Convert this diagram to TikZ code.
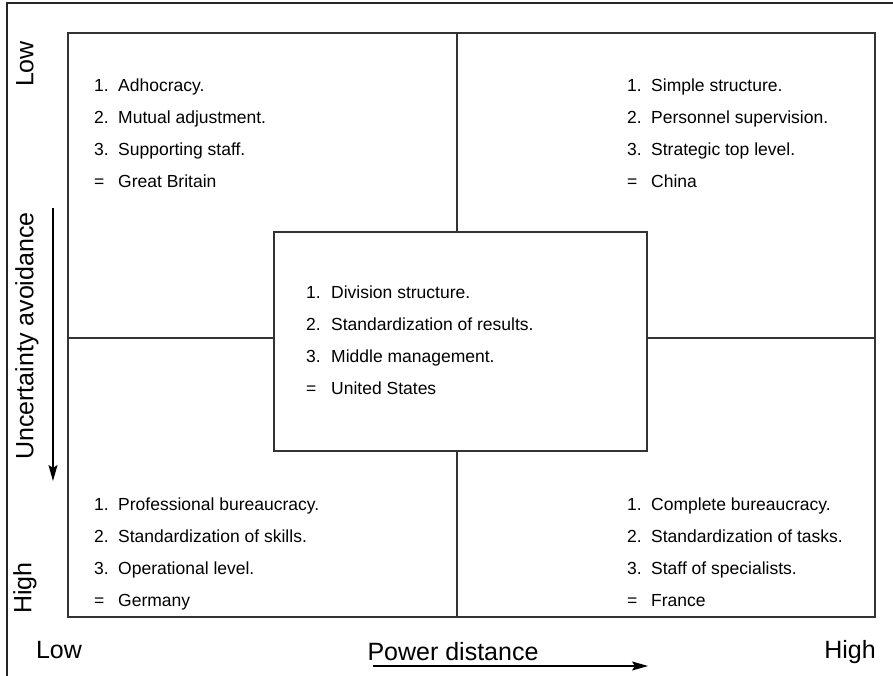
\documentclass[tikz,border=0pt]{standalone}
\usepackage{fontspec}
\setmainfont{Liberation Sans}
\usetikzlibrary{arrows.meta}
\begin{document}
\begin{tikzpicture}[x=1pt,y=-1pt,
  frameline/.style={line width=1.4pt, draw=black!85},
  quad/.style={line width=1.2pt, draw=black!80},
  item/.style={anchor=base west, inner sep=0pt, font=\fontsize{17.5}{20}\selectfont},
  axislabel/.style={inner sep=0pt, font=\fontsize{25}{30}\selectfont},
  dirarrow/.style={line width=1.2pt, -{Stealth[length=16pt,width=9pt,inset=3pt]}}]
\useasboundingbox (0,0) rectangle (893,676);

% outer frame (top and left edges)
\draw[frameline] (7,676) -- (7,3) -- (893,3);

% four quadrants
\draw[quad] (68,33) rectangle (875,617);
\draw[quad] (457,33) -- (457,617);
\draw[quad] (68,338) -- (875,338);

% central box
\node[quad, fill=white, minimum width=373pt, minimum height=219pt, inner sep=0pt]
  (mid) at (460.5,341.5) {};

% quadrant contents
\foreach \n/\t [count=\i] in {1./Adhocracy., 2./Mutual adjustment., 3./Supporting staff., =/Great Britain}{
  \node[item] (tl-n-\i) at (94,86+32*\i-32+6) {\n};
  \node[item] (tl-t-\i) at (118,86+32*\i-32+6) {\t};
}
\foreach \n/\t [count=\i] in {1./Simple structure., 2./Personnel supervision., 3./Strategic top level., =/China}{
  \node[item] (tr-n-\i) at (627,86+32*\i-32+6) {\n};
  \node[item] (tr-t-\i) at (651,86+32*\i-32+6) {\t};
}
\foreach \n/\t [count=\i] in {1./Division structure., 2./Standardization of results., 3./Middle management., =/United States}{
  \node[item] (c-n-\i) at (306,292+32*\i-32+6) {\n};
  \node[item] (c-t-\i) at (331,292+32*\i-32+6) {\t};
}
\foreach \n/\t [count=\i] in {1./Professional bureaucracy., 2./Standardization of skills., 3./Operational level., =/Germany}{
  \node[item] (bl-n-\i) at (94,504+32*\i-32+6) {\n};
  \node[item] (bl-t-\i) at (118,504+32*\i-32+6) {\t};
}
\foreach \n/\t [count=\i] in {1./Complete bureaucracy., 2./Standardization of tasks., 3./Staff of specialists., =/France}{
  \node[item] (br-n-\i) at (627,504+32*\i-32+6) {\n};
  \node[item] (br-t-\i) at (651,504+32*\i-32+6) {\t};
}

% vertical axis
\node[axislabel, rotate=90] (ylow) at (25,64) {Low};
\node[axislabel, rotate=90] (yhigh) at (25,588) {High};
\node[axislabel, rotate=90] (ytitle) at (27,336) {Uncertainty avoidance};
\coordinate (ya) at (53,208);
\coordinate (yb) at (53,481);
\draw[dirarrow] (ya) -- (yb);

% horizontal axis
\node[axislabel] (xlow) at (59,650) {Low};
\node[axislabel] (xhigh) at (850,652) {High};
\node[axislabel] (xtitle) at (453,652) {Power distance};
\coordinate (xa) at (373,666);
\coordinate (xb) at (648,666);
\draw[dirarrow] (xa) -- (xb);
\end{tikzpicture}
\end{document}
